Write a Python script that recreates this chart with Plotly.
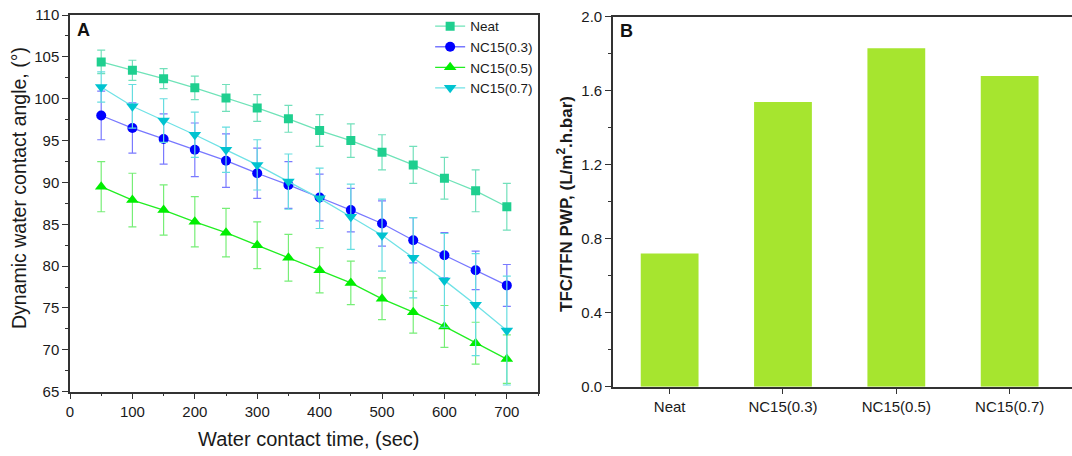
import plotly.graph_objects as go

# ---- Panel A data ----
time_sec = [50, 100, 150, 200, 250, 300, 350, 400, 450, 500, 550, 600, 650, 700]
neat = [104.4, 103.4, 102.4, 101.3, 100.1, 98.9, 97.6, 96.2, 95.0, 93.6, 92.1, 90.5, 89.0, 87.1]
neat_err = [1.4, 1.2, 1.2, 1.4, 1.6, 1.6, 1.6, 1.9, 2.0, 2.1, 2.2, 2.5, 2.5, 2.8]
nc03 = [98.0, 96.5, 95.2, 93.9, 92.6, 91.1, 89.7, 88.2, 86.7, 85.1, 83.1, 81.3, 79.5, 77.7]
nc03_err = [2.9, 3.0, 3.0, 3.2, 3.2, 3.0, 2.8, 2.8, 2.6, 2.7, 2.7, 2.7, 2.3, 2.5]
nc05 = [89.5, 87.9, 86.7, 85.3, 84.0, 82.5, 81.0, 79.5, 78.0, 76.1, 74.5, 72.8, 70.8, 68.9]
nc05_err = [3.0, 3.2, 3.0, 3.0, 2.9, 2.8, 2.8, 2.7, 2.6, 2.5, 2.5, 2.5, 2.5, 2.9]
nc07 = [101.4, 99.1, 97.4, 95.7, 93.9, 92.1, 90.1, 88.1, 85.9, 83.7, 81.0, 78.3, 75.4, 72.3]
nc07_err = [1.8, 2.6, 2.6, 2.7, 2.7, 3.0, 3.3, 3.6, 3.9, 4.3, 4.8, 5.6, 6.1, 6.5]

# ---- Panel B data ----
samples = ["Neat", "NC15(0.3)", "NC15(0.5)", "NC15(0.7)"]
pwp = [0.72, 1.54, 1.83, 1.68]

FONT = "Liberation Sans, Arial, sans-serif"
TXT = "#1a1a1a"

fig = go.Figure()

series = [
    ("Neat", neat, neat_err, "#1fcf8f", "#6fe3b8", "#72e0bb", "square", 9),
    ("NC15(0.3)", nc03, nc03_err, "#0000ff", "#7878ff", "#7a7aff", "circle", 10),
    ("NC15(0.5)", nc05, nc05_err, "#00ee00", "#22ee22", "#77ee77", "triangle-up", 11),
    ("NC15(0.7)", nc07, nc07_err, "#00c3d0", "#70e2e6", "#66dde0", "triangle-down", 11),
]
for name, ys, errs, mc, lc, ec, sym, sz in series:
    fig.add_trace(go.Scatter(
        x=time_sec, y=ys, name=name, mode="lines+markers",
        line=dict(color=lc, width=1.3),
        marker=dict(color=mc, symbol=sym, size=sz, line=dict(width=0)),
        error_y=dict(type="data", array=errs, visible=True, color=ec, thickness=1.2, width=4),
        xaxis="x", yaxis="y",
    ))

fig.add_trace(go.Bar(
    x=samples, y=pwp, marker=dict(color="#a6e52f", line=dict(width=0)),
    width=0.51, showlegend=False, xaxis="x2", yaxis="y2",
))

axis_common = dict(
    showline=True, linecolor="#333333", linewidth=1.5, showgrid=False, zeroline=False,
    ticks="outside", ticklen=6, tickwidth=1.2, tickcolor="#333333", automargin=False,
    tickfont=dict(family=FONT, size=15, color=TXT),
)


def label(text, px, py, size, angle=0, color=TXT):
    return dict(text=text, x=px / 1072, y=1 - py / 456, xref="paper", yref="paper",
                xanchor="center", yanchor="middle", showarrow=False, textangle=angle,
                font=dict(family=FONT, size=size, color=color))


fig.update_layout(
    template="none",
    width=1072, height=456,
    margin=dict(l=0, r=0, t=0, b=0),
    paper_bgcolor="white", plot_bgcolor="white",
    showlegend=True,
    legend=dict(
        x=0.502, xanchor="right", y=0.976, yanchor="top",
        bgcolor="rgba(0,0,0,0)", font=dict(family=FONT, size=13.5, color=TXT),
        itemwidth=30, tracegroupgap=0, borderwidth=0,
    ),
    xaxis=dict(
        domain=[0.0653, 0.5019], range=[0, 750], mirror=True,
        tickmode="array", tickvals=[0, 100, 200, 300, 400, 500, 600, 700],
        minor=dict(tickvals=[50, 150, 250, 350, 450, 550, 650, 750], ticklen=3, ticks="outside",
                   tickcolor="#333333"),
        **axis_common,
    ),
    yaxis=dict(
        domain=[0.141, 0.967], range=[65, 110], mirror=True,
        tickmode="array", tickvals=[65, 70, 75, 80, 85, 90, 95, 100, 105, 110],
        minor=dict(dtick=2.5, tick0=65, ticklen=3, ticks="outside", tickcolor="#333333"),
        **axis_common,
    ),
    xaxis2=dict(
        domain=[0.5718, 1.0], range=[-0.5, 3.55], mirror=True, anchor="y2",
        **axis_common,
    ),
    yaxis2=dict(
        domain=[0.152, 0.963], range=[0, 2.0], mirror=False, anchor="x2",
        tickmode="array", tickvals=[0, 0.4, 0.8, 1.2, 1.6, 2.0],
        ticktext=["0.0", "0.4", "0.8", "1.2", "1.6", "2.0"],
        minor=dict(tickvals=[0.2, 0.6, 1.0, 1.4, 1.8], ticklen=3, ticks="outside", tickcolor="#333333"),
        **axis_common,
    ),
    annotations=[
        label("Water contact time, (sec)", 309, 439, 20),
        label("Dynamic water contact angle, (°)", 19, 188, 19.5, angle=-90),
        label("<b>TFC/TFN PWP, (L/m<sup>2</sup>.h.bar)</b>", 565, 204, 17, angle=-90),
        label("<b>A</b>", 83, 30, 18, color="#111111"),
        label("<b>B</b>", 626, 31, 18, color="#111111"),
    ],
)

fig.write_html(
    "out.html",
    config={"displayModeBar": False},
    post_script="document.body.style.margin='0';document.body.style.overflow='hidden';",
)
